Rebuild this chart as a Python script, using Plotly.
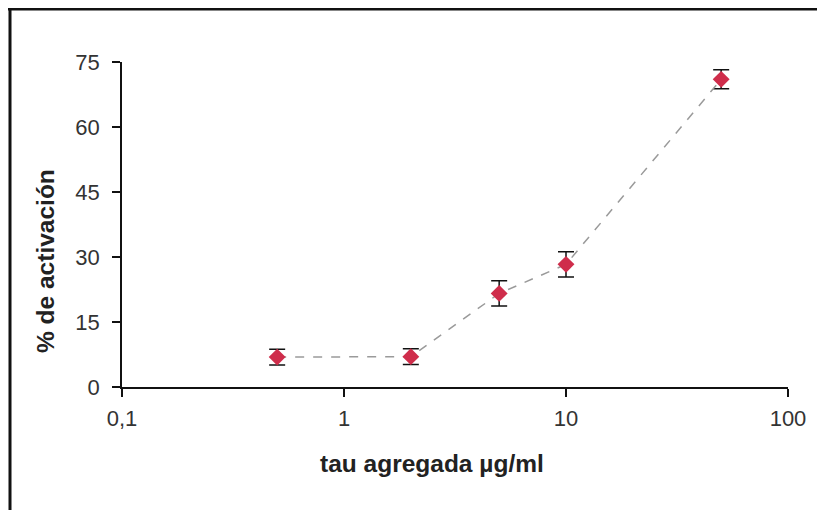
import plotly.graph_objects as go

conc = [0.5, 2, 5, 10, 50]
activacion = [6.9, 7.0, 21.6, 28.3, 71.0]
error = [1.8, 1.8, 2.9, 2.9, 2.2]
x_ticks = [0.1, 1, 10, 100]
x_ticktext = ["0,1", "1", "10", "100"]
y_ticks = [0, 15, 30, 45, 60, 75]

FONT = "Liberation Sans, Arial, sans-serif"

fig = go.Figure()
fig.add_trace(go.Scatter(
    x=conc, y=activacion, mode="lines+markers",
    line=dict(color="#9a9a9a", width=1.5, dash="dash"),
    marker=dict(symbol="diamond", size=13, color="#cf2d4b",
                line=dict(width=0)),
    error_y=dict(type="data", array=error, visible=True,
                 color="#111111", thickness=1.5, width=8),
    showlegend=False,
))

fig.update_layout(
    width=825, height=510,
    margin=dict(l=114, r=45, t=54, b=131),
    paper_bgcolor="white", plot_bgcolor="white",
    font=dict(family=FONT, color="#333333", size=22),
    xaxis=dict(type="log", range=[-1, 2], tickvals=x_ticks, ticktext=x_ticktext,
               showgrid=False, zeroline=False, showline=True, linecolor="#111111",
               linewidth=1.5, ticks="outside", ticklen=8, tickcolor="#111111",
               tickwidth=1.5, tickfont=dict(size=22, family=FONT, color="#333333"),
               ticklabelstandoff=3),
    yaxis=dict(range=[0, 75], tickvals=y_ticks, showgrid=False, zeroline=False,
               showline=True, linecolor="#111111", linewidth=1.5,
               ticks="outside", ticklen=8, tickcolor="#111111", tickwidth=1.5,
               tickfont=dict(size=22, family=FONT, color="#333333"),
               ticklabelstandoff=8),
    shapes=[
        dict(type="line", xref="paper", yref="paper", x0=-122/666, x1=1.2,
             y0=1 + 53/325, y1=1 + 53/325, line=dict(color="#111111", width=3)),
        dict(type="line", xref="paper", yref="paper", x0=-112/666, x1=-112/666,
             y0=1 + 53/325, y1=-0.5, line=dict(color="#111111", width=3)),
    ],
    annotations=[
        dict(text="<b>tau agregada µg/ml</b>", xref="paper", yref="paper",
             x=(432 - 122) / 666, y=-(463 - 387) / 325, showarrow=False,
             font=dict(size=24.5, family=FONT, color="#222222"),
             xanchor="center", yanchor="middle"),
        dict(text="<b>% de activación</b>", xref="paper", yref="paper",
             x=-(122 - 45) / 666, y=(387 - 261) / 325, showarrow=False,
             textangle=-90,
             font=dict(size=24.5, family=FONT, color="#222222"),
             xanchor="center", yanchor="middle"),
    ],
)

fig.write_html("out.html")
